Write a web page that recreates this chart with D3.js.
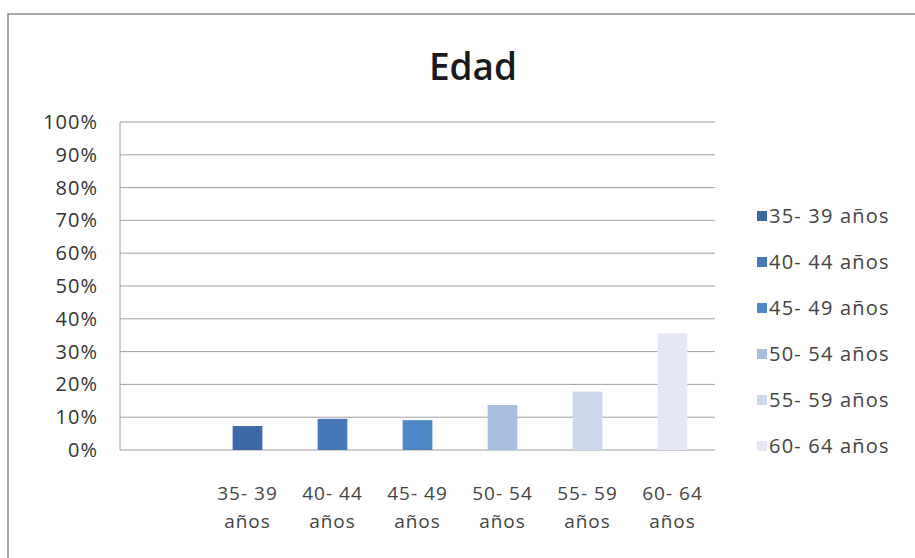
<!DOCTYPE html>
<html>
<head>
<meta charset="utf-8">
<script src="https://cdn.jsdelivr.net/npm/d3@7"></script>
<style>
  body { margin: 0; background: #fff; }
  svg text { font-family: "Open Sans", Lato, sans-serif; }
</style>
</head>
<body>
<svg id="chart"></svg>
<script>
// first slot on the axis is empty in the original
const categories = ["", "35- 39 años", "40- 44 años", "45- 49 años", "50- 54 años", "55- 59 años", "60- 64 años"];
const values = [null, 7.3, 9.5, 9.1, 13.7, 17.8, 35.6];
const colors = [null, "#3d68a6", "#4677b6", "#4f86c5", "#a8bee0", "#cdd8ee", "#e5e8f4"];
const yTicks = [0, 10, 20, 30, 40, 50, 60, 70, 80, 90, 100];

const width = 915, height = 558;
const margin = { top: 122, right: 200, bottom: 108, left: 120 };
const innerW = width - margin.left - margin.right;
const innerH = height - margin.top - margin.bottom;

const svg = d3.select('#chart')
    .attr('width', width)
    .attr('height', height);

// outer frame
svg.append('path')
    .attr('d', `M8,${height} V14 H${width}`)
    .attr('fill', 'none')
    .attr('stroke', '#8a8a8a')
    .attr('stroke-width', 1.5);

svg.append('text')
    .attr('x', 473)
    .attr('y', 80)
    .attr('text-anchor', 'middle')
    .style('font-size', '37px')
    .style('font-weight', '600')
    .attr('fill', '#1a1a1a')
    .text('Edad');

const chart = svg.append('g')
    .attr('transform', `translate(${margin.left},${margin.top})`);

const xScale = d3.scaleBand()
    .domain(categories.map((d, i) => i))
    .range([0, innerW])
    .paddingInner(0.65)
    .paddingOuter(0.325);

const yScale = d3.scaleLinear()
    .domain([0, 100])
    .range([innerH, 0]);

// gridlines
chart.selectAll('.grid')
    .data(yTicks)
    .join('line')
    .attr('class', 'grid')
    .attr('x1', 0)
    .attr('x2', innerW)
    .attr('y1', d => yScale(d))
    .attr('y2', d => yScale(d))
    .attr('stroke', '#a0a0a0')
    .attr('stroke-width', 1);

chart.append('line')
    .attr('x1', 0).attr('x2', 0)
    .attr('y1', 0).attr('y2', innerH)
    .attr('stroke', '#a0a0a0');

// y axis labels
const yAxis = d3.axisLeft(yScale)
    .tickValues(yTicks)
    .tickFormat(d => d + '%')
    .tickSize(0)
    .tickPadding(22);

const yAxisG = chart.append('g').call(yAxis);
yAxisG.select('.domain').remove();
yAxisG.selectAll('text')
    .style('font-size', '20px')
    .style('letter-spacing', '1px')
    .attr('fill', '#333');

// bars
const barData = values.map((v, i) => ({ i, v, c: colors[i] })).filter(d => d.v !== null);

chart.selectAll('.bar')
    .data(barData)
    .join('rect')
    .attr('class', 'bar')
    .attr('x', d => xScale(d.i))
    .attr('width', xScale.bandwidth())
    .attr('y', d => yScale(d.v))
    .attr('height', d => innerH - yScale(d.v))
    .attr('fill', d => d.c);

// x labels, two lines
const xLabels = chart.selectAll('.x-label')
    .data(barData)
    .join('text')
    .attr('class', 'x-label')
    .attr('text-anchor', 'middle')
    .attr('transform', d => `translate(${xScale(d.i) + xScale.bandwidth() / 2},${innerH + 50})`)
    .style('font-size', '19px')
    .style('letter-spacing', '1px')
    .attr('fill', '#444');

xLabels.append('tspan')
    .attr('x', 0)
    .text(d => categories[d.i].replace(' años', ''));
xLabels.append('tspan')
    .attr('x', 0)
    .attr('dy', 28)
    .text('años');

// legend
const legend = svg.append('g')
    .attr('transform', 'translate(757,216)');

const items = legend.selectAll('.legend-item')
    .data(barData)
    .join('g')
    .attr('class', 'legend-item')
    .attr('transform', (d, k) => `translate(0,${k * 46})`);

items.append('rect')
    .attr('x', 0)
    .attr('y', -5)
    .attr('width', 10)
    .attr('height', 10)
    .attr('fill', d => d.c);

items.append('text')
    .attr('x', 12)
    .attr('y', 0)
    .attr('dy', '0.35em')
    .style('font-size', '20px')
    .style('letter-spacing', '1.2px')
    .attr('fill', '#444')
    .text(d => categories[d.i]);
</script>
</body>
</html>
